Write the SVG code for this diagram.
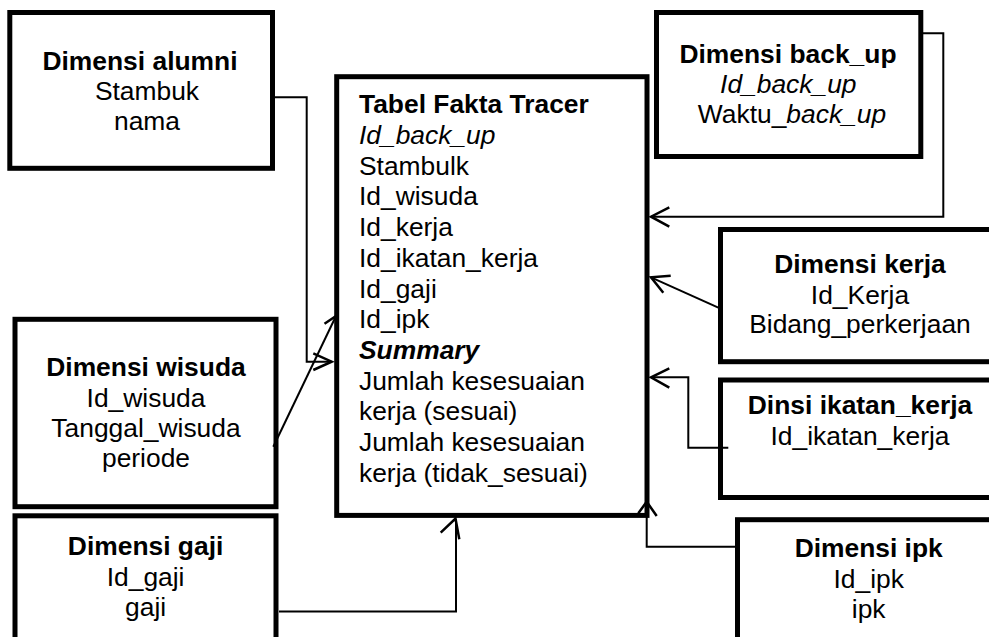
<svg xmlns="http://www.w3.org/2000/svg" width="989" height="637" viewBox="0 0 989 637">
<style>
.box{fill:#fff;stroke:#000;stroke-width:5}
text{font-family:"Liberation Sans",Arial,sans-serif;font-size:26.4px;fill:#000}
.c{text-anchor:middle}
.b{font-weight:bold}
.i{font-style:italic}
.con{fill:none;stroke:#000;stroke-width:2}
.ah{fill:none;stroke:#000;stroke-width:2.5}
</style>
<rect width="989" height="637" fill="#fff"/>
<g id="alumni">
<rect class="box" x="9.8" y="12.5" width="262.7" height="155.8"/>
<text class="c b" x="140" y="70">Dimensi alumni</text>
<text class="c" x="147" y="100">Stambuk</text>
<text class="c" x="147" y="130">nama</text>
</g>
<g id="backup">
<rect class="box" x="656.5" y="12.5" width="264.3" height="144"/>
<text class="c b" x="788" y="63.3">Dimensi back_up</text>
<text class="c i" x="788.3" y="93.3">Id_back_up</text>
<text class="c" x="792" y="122.7">Waktu_<tspan class="i">back_up</tspan></text>
</g>
<g id="fakta">
<rect class="box" x="336.7" y="76.7" width="310.3" height="438.7"/>
<text class="b" x="359" y="113.3">Tabel Fakta Tracer</text>
<text class="i" x="359" y="144">Id_back_up</text>
<text x="359" y="174.7">Stambulk</text>
<text x="359" y="205.4">Id_wisuda</text>
<text x="359" y="236.1">Id_kerja</text>
<text x="359" y="266.8">Id_ikatan_kerja</text>
<text x="359" y="297.5">Id_gaji</text>
<text x="359" y="328.2">Id_ipk</text>
<text class="b i" x="359" y="358.9">Summary</text>
<text x="359" y="389.6">Jumlah kesesuaian</text>
<text x="359" y="420.3">kerja (sesuai)</text>
<text x="359" y="451">Jumlah kesesuaian</text>
<text x="359" y="481.7">kerja (tidak_sesuai)</text>
</g>
<g id="wisuda">
<rect class="box" x="15" y="319.3" width="261" height="187.4"/>
<text class="c b" x="146" y="376">Dimensi wisuda</text>
<text class="c" x="146" y="406.7">Id_wisuda</text>
<text class="c" x="146" y="436.7">Tanggal_wisuda</text>
<text class="c" x="146" y="466.7">periode</text>
</g>
<g id="gaji">
<rect class="box" x="15" y="515.8" width="261" height="200"/>
<text class="c b" x="145.6" y="555">Dimensi gaji</text>
<text class="c" x="145.6" y="586">Id_gaji</text>
<text class="c" x="145.6" y="616">gaji</text>
</g>
<g id="kerja">
<rect class="box" x="720.5" y="229.5" width="300" height="132.2"/>
<text class="c b" x="860" y="273.3">Dimensi kerja</text>
<text class="c" x="860" y="304">Id_Kerja</text>
<text class="c" x="860" y="333.3">Bidang_perkerjaan</text>
</g>
<g id="ikatan">
<rect class="box" x="720.5" y="380" width="300" height="117.5"/>
<text class="c b" x="860" y="414">Dinsi ikatan_kerja</text>
<text class="c" x="860" y="445">Id_ikatan_kerja</text>
</g>
<g id="ipk">
<rect class="box" x="737.5" y="519.7" width="300" height="200"/>
<text class="c b" x="868.7" y="557.3">Dimensi ipk</text>
<text class="c" x="868.7" y="588.3">Id_ipk</text>
<text class="c" x="868.7" y="618">ipk</text>
</g>
<g id="connectors">
<polyline class="con" points="275,97.3 306.7,97.3 306.7,361.7 331.7,361.7"/>
<polyline class="ah" points="313.3,353.3 331.7,361.7 313.3,370"/>
<line class="con" x1="273.3" y1="446.7" x2="336" y2="316"/>
<polyline class="ah" points="324.5,323.8 336,316 336.9,335"/>
<polyline class="con" points="923,33.3 943.3,33.3 943.3,216.7 651,216.7"/>
<polyline class="ah" points="669.3,207.3 651,216.7 669.3,226.7"/>
<line class="con" x1="720" y1="308.3" x2="651" y2="277.3"/>
<polyline class="ah" points="670.7,275.7 651,277.3 663.3,292.7"/>
<polyline class="con" points="728.3,447.7 688.3,447.7 688.3,377.3 651,377.3"/>
<polyline class="ah" points="669.3,368.3 651,377.3 669.3,387.7"/>
<polyline class="con" points="279,611.5 456,611.5 456,519"/>
<polyline class="ah" points="440.7,532.7 455.5,518.5 459.3,539.3"/>
<polyline class="con" points="737.5,546.7 646.7,546.7 646.7,501.7"/>
<polyline class="ah" points="638.3,513.3 646.7,501.7 656.7,516"/>
</g>
</svg>
